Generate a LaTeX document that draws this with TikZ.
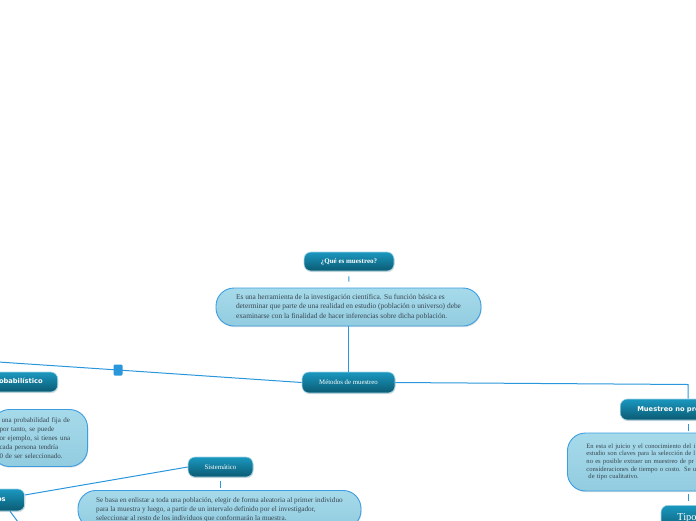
\documentclass[tikz,border=0pt]{standalone}
\usepackage{fontspec}
\setmainfont{Liberation Serif}
\newfontfamily\hdfont{DejaVu Sans}
\usetikzlibrary{shadows}
\definecolor{lnblue}{HTML}{2A96DC}
\definecolor{tealtop}{HTML}{1A98C0}
\definecolor{tealbot}{HTML}{0B5A72}
\definecolor{descfilltop}{HTML}{A6DAEA}
\definecolor{descfillbot}{HTML}{92CCE0}
\definecolor{descdraw}{HTML}{3C9DE0}
\definecolor{desctext}{HTML}{3A4650}
\begin{document}
\begin{tikzpicture}[x=1pt,y=-1pt,
  topic/.style={rounded corners=7pt, top color=tealtop, bottom color=tealbot,
    draw=tealtop!40!white, line width=0.6pt, text=white, inner ysep=0pt,
    drop shadow={shadow xshift=0.6pt, shadow yshift=-1.2pt, opacity=0.25}},
  desc/.style={rounded corners=18pt, top color=descfilltop, bottom color=descfillbot,
    draw=descdraw, line width=0.9pt, text=desctext, align=left, inner ysep=0pt,
    drop shadow={shadow xshift=0.6pt, shadow yshift=-1.2pt, opacity=0.25}},
  conn/.style={draw=lnblue, line width=1pt},
  serif/.style={font=\fontsize{6.8}{8}\selectfont},
  sansbold/.style={font=\hdfont\bfseries\fontsize{6.7}{8}\selectfont},
]
\useasboundingbox (0,0) rectangle (696,520);
\clip (0,0) rectangle (696,520);

% central column
\node[topic, minimum width=90pt, minimum height=19pt,
  font=\bfseries\fontsize{7}{8}\selectfont] (q) at (349,261.5) {¿Qué es muestreo?};
\node[desc, minimum width=265pt, minimum height=38pt,
  font=\fontsize{7.4}{9.3}\selectfont] (d1) at (348.5,307)
  {Es una herramienta de la investigación científica. Su función básica es\\
   determinar que parte de una realidad en estudio (población o universo) debe\\
   examinarse con la finalidad de hacer inferencias sobre dicha población.};
\node[topic, serif, minimum width=93pt, minimum height=21pt] (m) at (348.5,382.5) {Métodos de muestreo};

\draw[conn, shorten <=5pt, shorten >=6pt] (q) -- (d1);
\draw[conn] (d1) -- (m);

% left branch
\coordinate (cl) at (-30,360.1);
\node[fill=lnblue, rounded corners=1.2pt, minimum width=9pt, minimum height=11pt, inner sep=0pt] (sq) at (118,370) {};
\draw[conn] (m.west) -- (sq.center) -- (cl);

\node[topic, sansbold, anchor=east, minimum height=20pt, inner xsep=15pt] (p) at (58,382) {Muestreo probabilístico};
\node[desc, anchor=east, text width=80pt, inner xsep=8pt, minimum height=57pt,
  font=\fontsize{7}{9.2}\selectfont] (d2) at (88,438)
  {\hspace{2pt}una probabilidad fija de\\por tanto, se puede\\or ejemplo, si tienes una\\cada persona tendría\\0 de ser seleccionado.};

\node[topic, sansbold, anchor=east, minimum height=22pt, inner xsep=19pt] (tl) at (25,500) {Tipos};
\node[topic, serif, minimum width=65pt, minimum height=20pt] (sis) at (220.5,467) {Sistemático};
\node[desc, anchor=north, minimum width=283pt, minimum height=38pt,
  font=\fontsize{7.2}{9.2}\selectfont] (d4) at (219.5,490)
  {Se basa en enlistar a toda una población, elegir de forma aleatoria al primer individuo\\
   para la muestra y luego, a partir de un intervalo definido por el investigador,\\
   seleccionar al resto de los individuos que conformarán la muestra.};
\coordinate (c3) at (24,530);
\draw[conn] (tl) -- (sis.west);
\draw[conn] ([xshift=-15pt]tl.south east) -- (c3);
\draw[conn, shorten <=4pt, shorten >=2pt] (sis.south) -- (sis.south |- d4.north);

% right branch
\node[topic, sansbold, anchor=west, minimum height=21pt, inner xsep=17pt] (nr) at (620,409.5) {Muestreo no probabilístico};
\coordinate (c1) at (688,384.5);
\draw[conn] (m.east) -- (c1) -- (c1 |- nr.north);
\node[desc, anchor=west, text width=215pt, inner xsep=19pt, minimum height=58pt,
  font=\fontsize{6.6}{7.7}\selectfont] (d3) at (567,462)
  {En esta el juicio y el conocimiento del i\\estudio son claves para la selección de l\\no es posible extraer un muestreo de pr\\consideraciones de tiempo o costo. Se u\\\hspace{2pt}de tipo cualitativo.};
\node[topic, anchor=north, minimum width=56pt, minimum height=26pt,
  font=\fontsize{10.5}{12}\selectfont] (tr) at (689,505) {Tipos};
\draw[conn, shorten <=4pt, shorten >=2pt] (c1 |- nr.south) -- (c1 |- d3.north);
\draw[conn, shorten <=3pt, shorten >=4pt] (c1 |- d3.south) -- (c1 |- tr.north);
\end{tikzpicture}
\end{document}
